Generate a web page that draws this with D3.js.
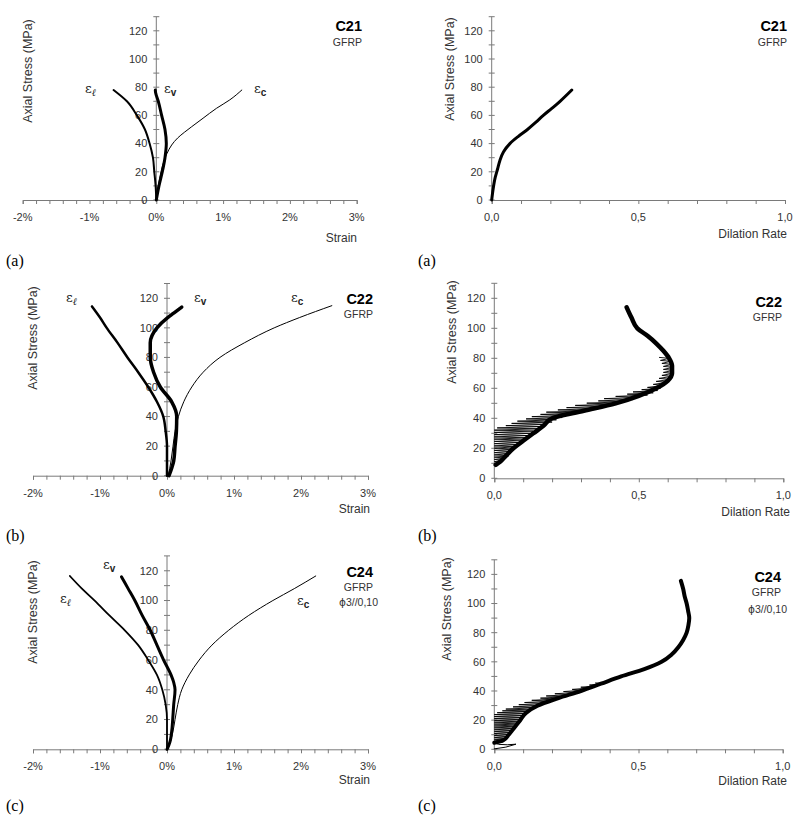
<!DOCTYPE html>
<html>
<head>
<meta charset="utf-8">
<script src="https://cdn.jsdelivr.net/npm/d3@7"></script>
<style>
body { margin: 0; background: #fff; }
svg text { font-family: "Liberation Sans", Arial, sans-serif; }
</style>
</head>
<body>
<svg id="fig" width="797" height="820"></svg>
<script>
// ---- data: [strain %, stress MPa] and [dilation rate, stress MPa]
var stressTicks = [0, 20, 40, 60, 80, 100, 120];
var strainTicks = [-2, -1, 0, 1, 2, 3];
var dilTicks = [0, 0.5, 1];
var specimens = ["C21", "C22", "C24"];
var panelLetters = ["(a)", "(b)", "(c)"];

var c21Ec = [[0,0],[0.03,10],[0.07,20],[0.11,27],[0.16,33],[0.23,39],[0.32,44],[0.42,48],[0.53,52],[0.7,58],[0.9,65],[1.1,71],[1.28,78]];
var c21El = [[0,0],[-0.01,10],[-0.03,20],[-0.05,30],[-0.1,40],[-0.17,50],[-0.29,60],[-0.44,70],[-0.64,78]];
var c21Ev = [[0,0],[0.04,10],[0.09,20],[0.13,30],[0.15,40],[0.13,50],[0.08,60],[0.03,70],[-0.01,76],[-0.015,78]];
var c21Dr = [[0,0],[0.005,8],[0.012,16],[0.02,22],[0.028,28],[0.04,34],[0.062,40],[0.09,45],[0.122,50],[0.15,55],[0.176,60],[0.205,65],[0.233,70],[0.273,78]];

var c22Ec = [[0.02,0],[0.06,10],[0.09,20],[0.12,30],[0.17,40],[0.25,50],[0.37,60],[0.54,70],[0.79,80],[1.16,90],[1.6,100],[1.98,107],[2.46,115]];
var c22El = [[0,0],[0,10],[0,20],[-0.02,30],[-0.055,40],[-0.15,50],[-0.28,60],[-0.43,70],[-0.59,80],[-0.74,90],[-0.9,100],[-1.0,107],[-1.12,114.5]];
var c22Ev = [[0.03,0],[0.07,5],[0.1,10],[0.12,20],[0.14,30],[0.145,40],[0.07,50],[-0.1,60],[-0.2,70],[-0.25,80],[-0.25,90],[-0.15,100],[0.01,107],[0.1,110],[0.22,114]];
var c22Dr = [[0.005,9],[0.02,11],[0.04,15],[0.066,20],[0.1,25],[0.135,30],[0.17,35],[0.2,40],[0.31,45],[0.42,50],[0.5,55],[0.56,60],[0.6,65],[0.615,70],[0.615,75],[0.605,80],[0.585,85],[0.56,90],[0.53,95],[0.495,100],[0.475,107],[0.458,114]];
// [stress, left excursion, right edge] of the scattered readings
var c22Spikes = [[9,0,0.01],[10.5,0,0.02],[12,0,0.03],[13.5,0,0.04],[15,0,0.05],[16.5,0,0.055],[18,0,0.06],[19.5,0,0.068],[21,0,0.075],[22.5,0,0.085],[24,0,0.09],[25.5,0,0.098],[27,0,0.11],[28.5,0,0.115],[30,0,0.125],[31.5,0,0.135],[33,0.01,0.15],[34.5,0.04,0.165],[36,0.06,0.18],[37.5,0.08,0.2],[39,0.11,0.215],[40.5,0.13,0.235],[42,0.16,0.26],[43.5,0.18,0.29],[45,0.22,0.32],[46.5,0.25,0.36],[48,0.28,0.39],[49.5,0.32,0.42],[51,0.36,0.45],[52.5,0.38,0.48],[54,0.42,0.5],[55.5,0.46,0.53],[57,0.48,0.55],[58.5,0.51,0.565],[60,0.53,0.575],[62,0.55,0.59],[64,0.56,0.6],[66,0.57,0.61],[68,0.58,0.615],[70,0.585,0.618],[72,0.585,0.62],[74,0.585,0.62],[76,0.58,0.615],[78,0.575,0.61],[80,0.57,0.605]];

var c24Ec = [[0.01,0],[0.05,5],[0.08,10],[0.12,20],[0.16,30],[0.22,40],[0.33,50],[0.48,60],[0.67,70],[0.92,80],[1.22,90],[1.58,100],[1.9,108],[2.22,116.5]];
var c24El = [[0,0],[0,10],[0,20],[-0.02,30],[-0.07,40],[-0.15,50],[-0.28,60],[-0.43,70],[-0.63,80],[-0.86,90],[-1.08,100],[-1.27,108],[-1.45,116.5]];
var c24Ev = [[0,0],[0.03,3],[0.05,6],[0.07,12],[0.085,20],[0.1,30],[0.12,40],[0.1,45],[0.06,50],[-0.05,60],[-0.15,70],[-0.25,80],[-0.37,90],[-0.48,100],[-0.58,108],[-0.68,116]];
var c24Dr = [[0,4.5],[0.03,6],[0.05,10],[0.07,15],[0.09,20],[0.11,25],[0.15,30],[0.22,35],[0.3,40],[0.37,45],[0.44,50],[0.52,55],[0.58,60],[0.615,65],[0.638,70],[0.655,75],[0.667,80],[0.673,85],[0.676,90],[0.672,95],[0.667,100],[0.66,105],[0.655,110],[0.647,115.6]];
var c24Loop = [[0,0.3],[0.04,1.5],[0.075,3.5],[0.045,3.1],[0.015,3.4],[0,4.5]];
var c24Spikes = [[5,0,0.03],[6.3,0,0.038],[7.6,0,0.043],[8.9,0,0.05],[10.2,0,0.053],[11.5,0,0.058],[12.8,0,0.064],[14.1,0,0.07],[15.4,0,0.074],[16.7,0,0.08],[18,0,0.085],[19.3,0,0.089],[20.6,0,0.093],[21.9,0,0.1],[23.2,0,0.106],[24.5,0.01,0.112],[25.8,0.028,0.12],[27,0.04,0.13],[28.5,0.065,0.145],[30,0.085,0.16],[31.5,0.105,0.183],[33,0.13,0.2],[34.5,0.16,0.215],[36,0.18,0.24],[37.5,0.21,0.262],[39,0.24,0.285],[40.5,0.27,0.307],[42,0.3,0.33],[43.5,0.33,0.352],[45,0.35,0.375]];

var svg = d3.select("#fig");
var axisColor = "#7a7a7a", textColor = "#333";

function yAxis(g, y, xpos) {
	var ax = g.append("g").attr("transform", "translate(" + xpos + ",0)");
	ax.append("line").attr("x1", 0).attr("x2", 0).attr("y1", y(0)).attr("y2", y(130)).attr("stroke", axisColor);
	ax.selectAll(".mt").data(d3.range(0, 131, 10)).enter().append("line")
		.attr("x1", -3).attr("x2", 3).attr("y1", function(d) { return y(d); }).attr("y2", function(d) { return y(d); })
		.attr("stroke", axisColor);
	ax.selectAll(".lb").data(stressTicks).enter().append("text")
		.attr("x", -9).attr("y", function(d) { return y(d); }).attr("dy", "0.35em")
		.attr("text-anchor", "end").attr("font-size", 11).attr("fill", textColor)
		.text(function(d) { return d; });
}

function drawPanel(p) {
	var g = svg.append("g");
	var x = d3.scaleLinear().domain(p.xdom).range(p.xr);
	var y = d3.scaleLinear().domain([0, 130]).range(p.yr);

	// x axis with minor ticks
	var xa = g.append("g").attr("transform", "translate(0," + y(0) + ")");
	xa.call(d3.axisBottom(x).tickValues(d3.range(p.xdom[0], p.xdom[1] + 1e-9, p.minor)).tickSize(4).tickFormat(""));
	xa.select(".domain").attr("stroke", axisColor);
	xa.selectAll(".tick line").attr("stroke", axisColor);
	xa.selectAll(".lab").data(p.ticks).enter().append("text")
		.attr("x", function(d) { return x(d); }).attr("y", 21)
		.attr("text-anchor", "middle").attr("font-size", 11).attr("fill", textColor)
		.text(p.fmt);

	yAxis(g, y, x(0));

	var smooth = d3.line().x(function(d) { return x(d[0]); }).y(function(d) { return y(d[1]); }).curve(d3.curveMonotoneY);
	var straight = d3.line().x(function(d) { return x(d[0]); }).y(function(d) { return y(d[1]); });

	if (p.spikes) {
		// scattered readings: each jumps left from the curve and back
		var zig = [];
		p.spikes.forEach(function(d) { zig.push([d[2], d[0]]); zig.push([d[1], d[0] + 0.6]); });
		g.append("path").datum(zig).attr("d", straight)
			.attr("fill", "none").attr("stroke", "#000").attr("stroke-width", 0.9);
	}
	p.series.forEach(function(s) {
		g.append("path").datum(s.data).attr("d", s.loop ? straight : smooth)
			.attr("fill", "none").attr("stroke", "#000").attr("stroke-width", s.w)
			.attr("stroke-linejoin", "round").attr("stroke-linecap", "round");
	});

	// axis titles
	g.append("text").attr("transform", "translate(" + p.yt[0] + "," + p.yt[1] + ") rotate(-90)")
		.attr("text-anchor", "middle").attr("dy", "0.35em").attr("font-size", 12.5).attr("fill", textColor)
		.text("Axial Stress (MPa)");
	g.append("text").attr("x", p.xt[0]).attr("y", p.xt[1]).attr("text-anchor", "end")
		.attr("font-size", 12).attr("fill", textColor).text(p.xtitle);
	g.append("text").attr("x", p.let[0]).attr("y", p.let[1]).attr("font-size", 16)
		.style("font-family", "'Liberation Serif', serif").attr("fill", "#000").text(p.letter);

	// specimen box
	p.info.forEach(function(t, i) {
		var tx = g.append("text").attr("x", t.x).attr("y", t.y).attr("text-anchor", "end")
			.attr("font-size", i === 0 ? 14.5 : 10.5).attr("font-weight", i === 0 ? "bold" : "normal")
			.attr("fill", i === 0 ? "#000" : textColor);
		if (t.phi) {
			tx.append("tspan").style("font-family", "'DejaVu Sans', sans-serif").text("ϕ");
			tx.append("tspan").text(t.s);
		} else tx.text(t.s);
	});

	(p.eps || []).forEach(function(e) {
		var t = g.append("text").attr("x", e.x).attr("y", e.y).attr("fill", "#222")
			.style("font-family", "'DejaVu Serif', serif").attr("font-size", 13);
		t.append("tspan").text("ε");
		var sub = t.append("tspan").attr("dy", 3).attr("font-size", 10).text(e.sub);
		if (e.sub === "ℓ") sub.attr("font-style", "italic");
		else sub.attr("font-weight", "bold").style("font-family", "'Liberation Sans', sans-serif");
	});
}

var strainFmt = function(d) { return d + "%"; };
var dilFmt = function(d) { return d3.format(".1f")(d).replace(".", ","); };

var panels = [
	{ xdom: [-2, 3], xr: [22.7, 356.7], yr: [200, 16.7], minor: 0.2, ticks: strainTicks, fmt: strainFmt,
	  series: [{ data: c21Ec, w: 1 }, { data: c21El, w: 2 }, { data: c21Ev, w: 3 }],
	  yt: [28, 71], xt: [357, 242], xtitle: "Strain", let: [6, 266], letter: panelLetters[0],
	  info: [{ s: specimens[0], x: 362, y: 31 }, { s: "GFRP", x: 362, y: 46 }],
	  eps: [{ x: 85, y: 93, sub: "ℓ" }, { x: 164, y: 93, sub: "v" }, { x: 254, y: 93, sub: "c" }] },
	{ xdom: [0, 1], xr: [491.7, 785], yr: [200, 16.7], minor: 0.1, ticks: dilTicks, fmt: dilFmt,
	  series: [{ data: c21Dr, w: 3 }],
	  yt: [450, 69], xt: [787, 238], xtitle: "Dilation Rate", let: [418, 266], letter: panelLetters[0],
	  info: [{ s: specimens[0], x: 787, y: 31 }, { s: "GFRP", x: 787, y: 46 }] },
	{ xdom: [-2, 3], xr: [33, 368], yr: [475.7, 283.5], minor: 0.2, ticks: strainTicks, fmt: strainFmt,
	  series: [{ data: c22Ec, w: 1 }, { data: c22El, w: 2.5 }, { data: c22Ev, w: 3.5 }],
	  yt: [33, 338], xt: [370, 513], xtitle: "Strain", let: [6, 541], letter: panelLetters[1],
	  info: [{ s: specimens[1], x: 373, y: 304 }, { s: "GFRP", x: 373, y: 318 }],
	  eps: [{ x: 66, y: 302, sub: "ℓ" }, { x: 194, y: 302, sub: "v" }, { x: 291, y: 302, sub: "c" }] },
	{ xdom: [0, 1], xr: [494.3, 783.3], yr: [478.3, 283.3], minor: 0.1, ticks: dilTicks, fmt: dilFmt,
	  series: [{ data: c22Dr, w: 4.5 }], spikes: c22Spikes,
	  yt: [452, 332], xt: [790, 516], xtitle: "Dilation Rate", let: [418, 541], letter: panelLetters[1],
	  info: [{ s: specimens[1], x: 782, y: 307 }, { s: "GFRP", x: 782, y: 321 }] },
	{ xdom: [-2, 3], xr: [33, 368], yr: [749.3, 555.9], minor: 0.2, ticks: strainTicks, fmt: strainFmt,
	  series: [{ data: c24Ec, w: 1 }, { data: c24El, w: 1.8 }, { data: c24Ev, w: 3 }],
	  yt: [33, 612], xt: [370, 784], xtitle: "Strain", let: [6, 811], letter: panelLetters[2],
	  info: [{ s: specimens[2], x: 373, y: 577 }, { s: "GFRP", x: 373, y: 591 }, { s: "3//0,10", phi: true, x: 378, y: 606 }],
	  eps: [{ x: 60, y: 603, sub: "ℓ" }, { x: 103, y: 569, sub: "v" }, { x: 297, y: 605, sub: "c" }] },
	{ xdom: [0, 1], xr: [494.3, 782.7], yr: [749.3, 559.8], minor: 0.1, ticks: dilTicks, fmt: dilFmt,
	  series: [{ data: c24Dr, w: 4 }, { data: c24Loop, w: 1, loop: true }], spikes: c24Spikes,
	  yt: [447, 609], xt: [787, 785], xtitle: "Dilation Rate", let: [418, 811], letter: panelLetters[2],
	  info: [{ s: specimens[2], x: 781, y: 582 }, { s: "GFRP", x: 781, y: 596 }, { s: "3//0,10", phi: true, x: 787, y: 613 }] }
];

panels.forEach(drawPanel);
</script>
</body>
</html>
